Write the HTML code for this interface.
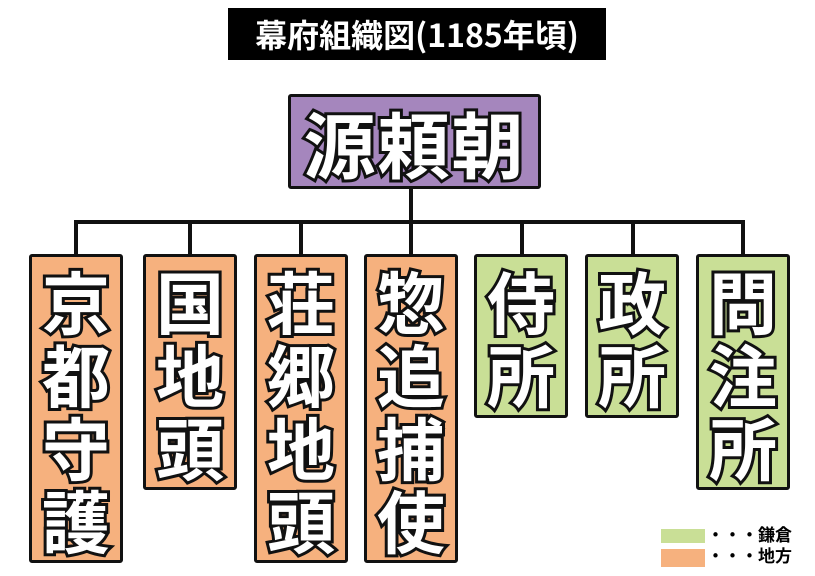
<!DOCTYPE html>
<html><head><meta charset="utf-8"><style>
html,body{margin:0;padding:0;background:#fff;}
body{width:815px;height:576px;position:relative;overflow:hidden;font-family:"Liberation Sans","Noto Sans CJK JP",sans-serif;}
.a{position:absolute;box-sizing:border-box;}
.box{border:3px solid #111;border-radius:3px;}
.o{background:#f6b17e;}
.g{background:#c9df96;}
.ln{position:absolute;background:#111;}
.c{position:absolute;width:100px;height:74px;line-height:74px;text-align:center;font-size:68px;font-weight:bold;color:#fff;-webkit-text-stroke:6px #111;paint-order:stroke fill;font-family:"Noto Sans CJK JP",sans-serif;}
</style></head><body>
<div class="a" style="left:228px;top:8px;width:378px;height:52px;background:#000;color:#fff;font-size:32px;font-weight:bold;line-height:52px;text-align:center;font-family:'Noto Sans CJK JP',sans-serif;">幕府組織図(1185年頃)</div>
<div class="a box" style="left:288px;top:94px;width:253px;height:95px;background:#a586bd;"></div>
<div class="c" style="left:288px;top:105px;width:253px;font-size:72px;letter-spacing:2px;">源頼朝</div>
<div class="ln" style="left:409px;top:189px;width:4px;height:33px;"></div>
<div class="ln" style="left:74px;top:220px;width:671px;height:4px;"></div>
<div class="ln" style="left:74px;top:220px;width:4px;height:35px;"></div>
<div class="ln" style="left:188px;top:220px;width:4px;height:35px;"></div>
<div class="ln" style="left:299px;top:220px;width:4px;height:35px;"></div>
<div class="ln" style="left:409px;top:220px;width:4px;height:35px;"></div>
<div class="ln" style="left:520px;top:220px;width:4px;height:35px;"></div>
<div class="ln" style="left:631px;top:220px;width:4px;height:35px;"></div>
<div class="ln" style="left:741px;top:220px;width:4px;height:35px;"></div>

<div class="a box o" style="left:29px;top:254px;width:94px;height:309px;"></div>
<div class="a box o" style="left:143px;top:254px;width:94px;height:236px;"></div>
<div class="a box o" style="left:254px;top:254px;width:94px;height:309px;"></div>
<div class="a box o" style="left:364px;top:254px;width:94px;height:309px;"></div>
<div class="a box g" style="left:474px;top:254px;width:94px;height:164px;"></div>
<div class="a box g" style="left:585px;top:254px;width:94px;height:164px;"></div>
<div class="a box g" style="left:696px;top:254px;width:94px;height:236px;"></div>

<div class="c" style="left:26px;top:263px;">京</div>
<div class="c" style="left:26px;top:336px;">都</div>
<div class="c" style="left:26px;top:409px;">守</div>
<div class="c" style="left:26px;top:482px;">護</div>
<div class="c" style="left:140px;top:263px;">国</div>
<div class="c" style="left:140px;top:336px;">地</div>
<div class="c" style="left:140px;top:409px;">頭</div>
<div class="c" style="left:251px;top:263px;">荘</div>
<div class="c" style="left:251px;top:336px;">郷</div>
<div class="c" style="left:251px;top:409px;">地</div>
<div class="c" style="left:251px;top:482px;">頭</div>
<div class="c" style="left:361px;top:263px;">惣</div>
<div class="c" style="left:361px;top:336px;">追</div>
<div class="c" style="left:361px;top:409px;">捕</div>
<div class="c" style="left:361px;top:482px;">使</div>
<div class="c" style="left:471px;top:263px;">侍</div>
<div class="c" style="left:471px;top:336px;">所</div>
<div class="c" style="left:582px;top:263px;">政</div>
<div class="c" style="left:582px;top:336px;">所</div>
<div class="c" style="left:693px;top:263px;">問</div>
<div class="c" style="left:693px;top:336px;">注</div>
<div class="c" style="left:693px;top:409px;">所</div>

<div class="a" style="left:661px;top:529px;width:44px;height:14px;background:#c9df96;"></div>
<div class="a" style="left:661px;top:549px;width:44px;height:18px;background:#f6b17e;"></div>
<div class="a" style="left:707px;top:524px;font-size:17px;font-weight:bold;line-height:20px;color:#000;font-family:'Noto Sans CJK JP',sans-serif;white-space:nowrap;">・・・鎌倉</div>
<div class="a" style="left:707px;top:545px;font-size:17px;font-weight:bold;line-height:20px;color:#000;font-family:'Noto Sans CJK JP',sans-serif;white-space:nowrap;">・・・地方</div>
</body></html>
